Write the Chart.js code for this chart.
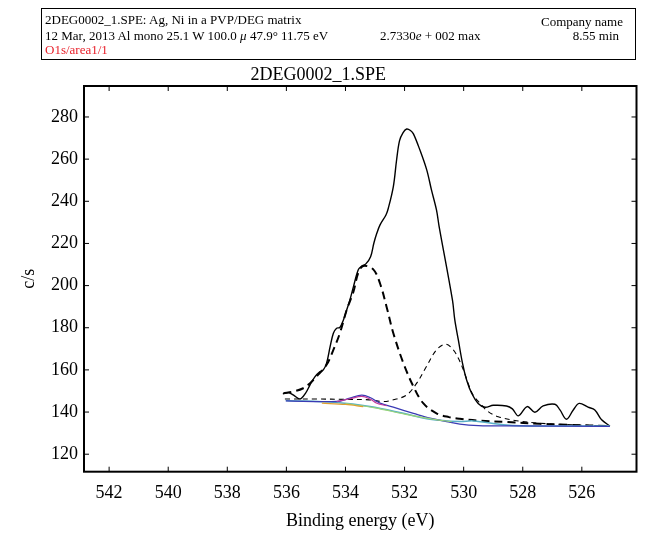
<!DOCTYPE html>
<html>
<head>
<meta charset="utf-8">
<script src="https://cdn.jsdelivr.net/npm/chart.js@4"></script>
<style>
  html, body { margin: 0; padding: 0; background: #fff; }
  #wrap { position: relative; width: 645px; height: 536px; }
  #hdr { position: absolute; left: 41px; top: 8px; width: 593px; height: 50px; border: 1.5px solid #000;
         font-family: "Liberation Serif", serif; font-size: 13px; color: #000; }
  #hdr span { position: absolute; white-space: nowrap; line-height: 14px; }
  canvas { position: absolute; left: 0; top: 0; }
</style>
</head>
<body>
<div id="wrap">
  <canvas id="c" width="645" height="536"></canvas>
  <div id="hdr">
    <span style="left:3px; top:4px;">2DEG0002_1.SPE: Ag, Ni in a PVP/DEG matrix</span>
    <span style="right:12px; top:6px;">Company name</span>
    <span style="left:3px; top:20px;">12 Mar, 2013 Al mono 25.1 W 100.0 <i>μ</i> 47.9° 11.75 eV</span>
    <span style="left:338px; top:20px;">2.7330<i>e</i> + 002 max</span>
    <span style="right:16px; top:20px;">8.55 min</span>
    <span style="left:3px; top:34px; color:#e8202a;">O1s/area1/1</span>
  </div>
</div>
<script>
// ---- data ----
const xTicks = [526, 528, 530, 532, 534, 536, 538, 540, 542];
const yTicks = [120, 140, 160, 180, 200, 220, 240, 260, 280];

const specE = [536.12, 535.93, 535.77, 535.54, 535.35, 535.20, 535.03, 534.86, 534.75, 534.64, 534.52, 534.41, 534.30, 534.19, 534.07, 533.96, 533.85, 533.73, 533.57, 533.45, 533.31, 533.15, 533.04, 532.94, 532.83, 532.63, 532.55, 532.38, 532.27, 532.17, 532.05, 531.93, 531.80, 531.70, 531.48, 531.25, 531.09, 530.92, 530.83, 530.38, 530.30, 530.18, 530.04, 529.90, 529.73, 529.51, 529.28, 529.00, 528.55, 528.35, 528.15, 527.85, 527.59, 527.31, 526.91, 526.74, 526.52, 526.29, 526.09, 525.79, 525.56, 525.33, 525.05];
const specC = [148.6, 149.2, 148.1, 146.2, 149.0, 152.9, 156.8, 159.2, 160.0, 163.2, 171.0, 177.4, 179.8, 180.1, 183.7, 188.4, 193.2, 199.5, 207.4, 209.3, 210.3, 213.7, 220.1, 224.8, 228.8, 233.5, 236.7, 247.0, 259.6, 268.8, 272.6, 274.3, 273.6, 272.0, 264.3, 254.9, 245.4, 235.9, 228.0, 193.2, 183.7, 174.2, 163.2, 155.2, 148.9, 144.1, 142.3, 143.2, 142.9, 141.5, 138.2, 142.6, 139.9, 142.9, 143.7, 141.0, 136.6, 141.0, 144.1, 142.3, 141.0, 136.3, 133.4];

const peak1E = [536.10, 535.77, 535.43, 535.20, 534.98, 534.64, 534.41, 534.19, 533.96, 533.73, 533.57, 533.40, 533.06, 532.83, 532.61, 532.38, 532.04, 531.70, 531.37, 530.92, 530.50, 530.13, 529.45, 528.55, 527.42, 526.29, 525.16];
const peak1C = [148.9, 149.7, 151.3, 153.7, 156.8, 162.4, 169.5, 177.4, 188.4, 197.1, 205.9, 209.3, 207.7, 201.0, 190.0, 177.4, 163.2, 152.1, 144.2, 139.4, 137.6, 136.8, 135.9, 135.3, 134.4, 133.9, 133.4];

const peak2E = [536.05, 535.00, 534.00, 533.20, 532.72, 532.38, 531.93, 531.59, 531.26, 530.92, 530.60, 530.35, 530.18, 530.01, 529.85, 529.68, 529.45, 529.17, 528.83, 528.21, 527.42, 526.29, 525.16];
const peak2C = [146.2, 146.2, 146.0, 145.8, 145.0, 145.8, 148.1, 153.7, 161.6, 169.5, 172.2, 169.5, 165.5, 160.0, 153.7, 148.1, 144.2, 140.2, 137.8, 135.9, 134.7, 133.9, 133.4];

const bgTealE = [536.02, 534.30, 533.17, 532.04, 531.14, 530.13, 529.68, 528.55, 527.42, 525.05];
const bgTealC = [145.5, 144.5, 142.6, 139.4, 136.6, 135.5, 135.8, 133.9, 133.4, 133.4];

const bgBlueE = [536.02, 534.30, 533.85, 533.45, 533.17, 532.83, 532.38, 531.70, 531.14, 530.58, 530.13, 529.50, 528.55, 525.05];
const bgBlueC = [145.3, 145.0, 146.6, 148.0, 146.9, 144.2, 142.3, 139.4, 137.1, 135.5, 134.3, 133.6, 133.4, 133.2];

const bgMagE = [534.30, 533.85, 533.45, 533.17, 532.94, 532.60];
const bgMagC = [145.0, 146.3, 147.4, 146.2, 144.2, 143.0];

const bgGreenE = [534.0, 533.0, 532.0, 531.0, 530.4];
const bgGreenC = [144.0, 142.0, 139.0, 136.5, 135.4];

const bgOrangeE = [534.8, 534.0, 533.4];
const bgOrangeC = [144.2, 143.6, 142.6];

// ---- build ----
const pts = (E, C) => E.map((e, i) => ({ x: e, y: C[i] }));
const SERIF = '"Liberation Serif", "Times New Roman", serif';

function ds(label, E, C, color, width, dash) {
  return {
    label, data: pts(E, C), borderColor: color, borderWidth: width,
    borderDash: dash || [], pointRadius: 0, fill: false, tension: 0.35
  };
}

const frame = {
  id: 'frame',
  afterDraw(chart) {
    const { ctx, chartArea: a, scales } = chart;
    ctx.save();
    ctx.strokeStyle = '#000';
    ctx.lineWidth = 1;
    const L = 5;
    ctx.beginPath();
    xTicks.forEach(v => {
      const p = scales.x.getPixelForValue(v);
      ctx.moveTo(p, a.bottom); ctx.lineTo(p, a.bottom - L);
      ctx.moveTo(p, a.top); ctx.lineTo(p, a.top + L);
    });
    yTicks.forEach(v => {
      const p = scales.y.getPixelForValue(v);
      ctx.moveTo(a.left, p); ctx.lineTo(a.left + L, p);
      ctx.moveTo(a.right, p); ctx.lineTo(a.right - L, p);
    });
    ctx.stroke();
    ctx.lineWidth = 2;
    ctx.strokeRect(a.left, a.top, a.right - a.left, a.bottom - a.top);
    ctx.restore();
  }
};

new Chart(document.getElementById('c'), {
  type: 'line',
  data: {
    datasets: [
      ds('orange', bgOrangeE, bgOrangeC, '#e0a030', 1.2),
      ds('green', bgGreenE, bgGreenC, '#98d47a', 1.2),
      ds('magenta', bgMagE, bgMagC, '#c03c9c', 1.2),
      ds('blue', bgBlueE, bgBlueC, '#3a3ab4', 1.3),
      ds('teal', bgTealE, bgTealC, '#58aec6', 1.5),
      ds('peak2', peak2E, peak2C, '#000', 1.1, [5, 4]),
      ds('peak1', peak1E, peak1C, '#000', 2, [8, 5]),
      ds('spectrum', specE, specC, '#000', 1.4)
    ]
  },
  options: {
    responsive: false,
    devicePixelRatio: 1,
    animation: false,
    layout: { padding: { top: 64.4, right: 8.5, left: 0, bottom: 0 } },
    plugins: {
      legend: { display: false },
      tooltip: { enabled: false },
      title: {
        display: true, text: '2DEG0002_1.SPE', color: '#000',
        font: { family: SERIF, size: 18, weight: 'normal' },
        padding: { top: 0, bottom: 0 }
      }
    },
    scales: {
      x: {
        type: 'linear', reverse: true, min: 524.15, max: 542.85,
        afterBuildTicks: s => { s.ticks = xTicks.map(v => ({ value: v })); },
        afterFit: s => { s.height = 64.3; },
        grid: { display: false, drawTicks: false },
        border: { display: false },
        ticks: { color: '#000', padding: 11, maxRotation: 0, font: { family: SERIF, size: 18 } },
        title: { display: true, text: 'Binding energy (eV)', color: '#000',
                 font: { family: SERIF, size: 18 }, padding: { top: 0, bottom: 4 } }
      },
      y: {
        type: 'linear', min: 111.7, max: 294.7,
        afterBuildTicks: s => { s.ticks = yTicks.map(v => ({ value: v })); },
        afterFit: s => { s.width = 84; },
        grid: { display: false, drawTicks: false },
        border: { display: false },
        ticks: { color: '#000', padding: 6, font: { family: SERIF, size: 18 } },
        title: { display: true, text: 'c/s', color: '#000',
                 font: { family: SERIF, size: 18 }, padding: { top: 18, bottom: 0 } }
      }
    }
  },
  plugins: [frame]
});
</script>
</body>
</html>
